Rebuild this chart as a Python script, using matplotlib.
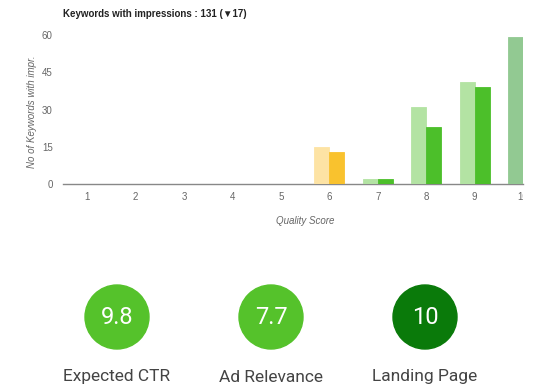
import matplotlib
matplotlib.use("Agg")
import matplotlib.pyplot as plt
from matplotlib.patches import Circle
from matplotlib.transforms import Bbox, TransformedBbox
import numpy as np

# ---- data ----
scores = ["1", "2", "3", "4", "5", "6", "7", "8", "9", "10"]
previous = [0, 0, 0, 0, 0, 15, 2, 31, 41, 59]
current = [0, 0, 0, 0, 0, 13, 2, 23, 39, 59]
light_colors = ["#f6b9b3", "#f6b9b3", "#f6b9b3", "#fde3a4", "#fde3a4",
                "#fde3a4", "#b3e3a3", "#b3e3a3", "#b3e3a3", "#92c992"]
dark_colors = ["#ea6a5e", "#ea6a5e", "#ea6a5e", "#f9c22e", "#f9c22e",
               "#f9c22e", "#4cbf2a", "#4cbf2a", "#4cbf2a", "#0b8a0b"]
yticks = [0, 15, 30, 45, 60]

title = "Keywords with impressions : 131 (\u25bc17)"
ylabel = "No of Keywords with impr."
xlabel = "Quality Score"

gauge_labels = ["Expected CTR", "Ad Relevance", "Landing Page"]
gauge_values = ["9.8", "7.7", "10"]
gauge_colors = ["#55c22b", "#55c22b", "#0a7a0a"]

W, H = 540, 390
fig = plt.figure(figsize=(W / 100, H / 100), dpi=100)
fig.patch.set_facecolor("white")

sans = ["Liberation Sans", "DejaVu Sans"]
gray = "#666666"

# ---- bar chart ----
ax = fig.add_axes([63 / W, (H - 184) / H, (523 - 63) / W, (184 - 35) / H])
x = np.arange(len(scores))
bw = 0.31
ax.bar(x - bw / 2, previous, width=bw, color=light_colors,
       edgecolor=light_colors, linewidth=0.6, zorder=4)
ax.bar(x + bw / 2, current, width=bw, color=dark_colors,
       edgecolor=dark_colors, linewidth=0.6, zorder=4)
ax.set_xlim(-0.5, 9.0)
ax.set_ylim(0, 60)
ax.set_yticks(yticks)
ax.set_xticks(x)
ax.set_xticklabels(scores)
for s in ["top", "right", "left"]:
    ax.spines[s].set_visible(False)
ax.spines["bottom"].set_color("#888888")
ax.spines["bottom"].set_linewidth(1.0)
ax.spines["bottom"].set_zorder(3)
ax.tick_params(axis="both", length=0, labelsize=7, labelcolor=gray)
ax.tick_params(axis="x", pad=6)
ax.tick_params(axis="y", pad=7.5)
for lbl in ax.get_xticklabels() + ax.get_yticklabels():
    lbl.set_family(sans)
clipbox = TransformedBbox(Bbox([[0, 0], [523 / W, 1]]), fig.transFigure)
for lbl in ax.get_xticklabels():
    lbl.set_clip_on(True)
    lbl.set_clip_box(clipbox)

ax.set_xlabel(xlabel, fontsize=7, style="italic", color=gray, family=sans)
ax.xaxis.set_label_coords((305 - 63) / (523 - 63), -(216 - 184) / (184 - 35))
ax.set_ylabel(ylabel, fontsize=7, style="italic", color=gray, family=sans)
ax.yaxis.set_label_coords(-(63 - 37) / (523 - 63), (184 - 112) / (184 - 35))

fig.text(63 / W, (H - 14) / H, title, fontsize=7, fontweight="bold",
         color="#222222", family=sans, ha="left", va="center")

# ---- gauges ----
gax = fig.add_axes([0, 0, 1, 130 / H])
gax.set_xlim(0, W)
gax.set_ylim(0, 130)
gax.set_aspect("equal")
gax.axis("off")
centers = [117, 271, 425]
for cx, val, lab, col in zip(centers, gauge_values, gauge_labels, gauge_colors):
    gax.add_patch(Circle((cx, 73), 32, color=col, zorder=2))
    gax.text(cx, 73, val, ha="center", va="center", fontsize=17,
             color="white", family=["Roboto", "DejaVu Sans"], zorder=3)
    gax.text(cx, 13, lab, ha="center", va="center", fontsize=12.5,
             color="#444444", family=["Roboto", "DejaVu Sans"])

fig.savefig("out.png", dpi=100, facecolor="white")
